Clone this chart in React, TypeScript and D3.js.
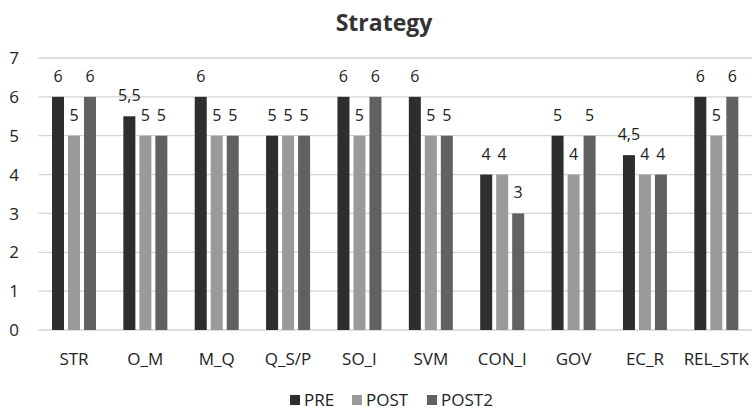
import React from "react";
import * as d3 from "d3";

const categories = ["STR", "O_M", "M_Q", "Q_S/P", "SO_I", "SVM", "CON_I", "GOV", "EC_R", "REL_STK"];
const seriesNames = ["PRE", "POST", "POST2"];
const preValues = [6, 5.5, 6, 5, 6, 6, 4, 5, 4.5, 6];
const postValues = [5, 5, 5, 5, 5, 5, 4, 4, 4, 5];
const post2Values = [6, 5, 5, 5, 6, 5, 3, 5, 4, 6];
const yTicks = [0, 1, 2, 3, 4, 5, 6, 7];
const colors = ["#2e2e2e", "#9a9a9a", "#616161"];

const W = 752;
const H = 410;
const FONT = "'Open Sans', 'DejaVu Sans', sans-serif";

export default function App() {
  const seriesValues = [preValues, postValues, post2Values];
  const x0 = d3.scaleBand<string>().domain(categories).range([38.3, 752]).padding(0);
  const side = (x0.bandwidth() - 44) / 2;
  const x1 = d3
    .scaleBand<string>()
    .domain(seriesNames)
    .range([side, side + 44])
    .paddingInner(0.25)
    .paddingOuter(0);
  const y = d3.scaleLinear().domain([0, 7]).range([330, 58]);
  const fmt = (v: number) => String(v).replace(".", ",");

  const legendItems = [
    { name: "PRE", x: 290 },
    { name: "POST", x: 352 },
    { name: "POST2", x: 427 },
  ];

  return (
    <div style={{ position: "absolute", left: 0, top: 0 }}>
      <svg width={W} height={H} style={{ display: "block", background: "#fff" }} fontFamily={FONT}>
        <text x={384} y={31} textAnchor="middle" fontSize={23} fontWeight={700} fill="#333">
          Strategy
        </text>
        {yTicks.map((t) => (
          <g key={t}>
            <line x1={38.3} x2={752} y1={y(t)} y2={y(t)} stroke="#d4d4d4" strokeWidth={1.3} />
            <text x={19} y={y(t)} dy="0.36em" textAnchor="end" fontSize={17} fill="#222">
              {t}
            </text>
          </g>
        ))}
        {categories.map((c, i) => (
          <g key={c} transform={`translate(${x0(c)},0)`}>
            {seriesNames.map((s, j) => {
              const v = seriesValues[j][i];
              const bx = x1(s)!;
              return (
                <g key={s}>
                  <rect x={bx} y={y(v)} width={x1.bandwidth()} height={y(0) - y(v)} fill={colors[j]} />
                  <text
                    x={bx + x1.bandwidth() / 2}
                    y={y(v) - 15}
                    textAnchor="middle"
                    fontSize={16}
                    fill="#222"
                  >
                    {fmt(v)}
                  </text>
                </g>
              );
            })}
            <text x={x0.bandwidth() / 2} y={365} textAnchor="middle" fontSize={17} fill="#222">
              {c}
            </text>
          </g>
        ))}
        {legendItems.map((l, i) => (
          <g key={l.name}>
            <rect x={l.x} y={395} width={10} height={10} fill={colors[i]} />
            <text x={l.x + 14} y={406} fontSize={17} fill="#222">
              {l.name}
            </text>
          </g>
        ))}
      </svg>
    </div>
  );
}
